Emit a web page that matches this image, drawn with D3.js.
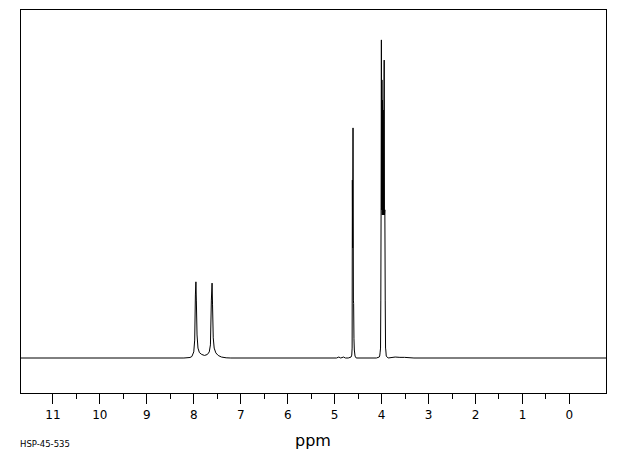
<!DOCTYPE html>
<html>
<head>
<meta charset="utf-8">
<script src="https://cdn.jsdelivr.net/npm/d3@7"></script>
<style>
  html, body { margin: 0; padding: 0; background: #fff; }
  svg { display: block; }
</style>
</head>
<body>
<svg id="chart" width="620" height="455"></svg>
<script>
// ---- data ----
const ppmRange = [11.68, -0.79];          // visible chemical-shift window
const majorTicks = [11, 10, 9, 8, 7, 6, 5, 4, 3, 2, 1, 0];
const minorTicks = [10.5, 9.5, 8.5, 7.5, 6.5, 5.5, 4.5, 3.5, 2.5, 1.5, 0.5];
const xLabel = "ppm";
const sampleId = "HSP-45-535";

// spectrum trace: chemical shift (ppm) and relative intensity (%)
const shiftPpm = [
  11.68, 8.2, 8.07, 8.03, 7.99, 7.97, 7.955, 7.944, 7.935, 7.92, 7.9, 7.87, 7.82, 7.76,
  7.7, 7.66, 7.635, 7.615, 7.6, 7.59, 7.575, 7.555, 7.52, 7.47, 7.4, 7.3, 7.2,
  4.95, 4.9, 4.86, 4.8, 4.76, 4.7, 4.64, 4.625, 4.617, 4.612, 4.606, 4.598, 4.59, 4.585,
  4.578, 4.57, 4.555, 4.53,
  4.1, 4.04, 4.03, 4.022, 4.012, 4.006, 4.0, 3.994, 3.988, 3.982, 3.976, 3.97, 3.962,
  3.955, 3.948, 3.94, 3.934, 3.928, 3.92, 3.912, 3.905, 3.9, 3.89, 3.87, 3.85,
  3.7, 3.6, 3.5, 3.3, -0.79
];
const intensity = [
  0, 0, 0.16, 0.47, 1.9, 5.6, 19.7, 23.8, 18.1, 7.2, 3.1, 1.7, 1.1, 0.8,
  1.1, 1.9, 4.1, 18.1, 23.4, 16.6, 6.3, 3.1, 1.6, 0.8, 0.3, 0.06, 0,
  0, 0.3, 0, 0.3, 0, 0, 0.3, 0.9, 3.1, 55.6, 34.4, 71.9, 18.1, 17.0,
  6.0, 2.5, 0.6, 0,
  0, 0.3, 0.6, 1.6, 3.1, 18.1, 46.9, 99.4, 46.3, 86.9, 44.7, 80.6, 44.7,
  77.5, 44.7, 74.4, 93.1, 44.7, 46.3, 18.1, 3.1, 2.5, 0.6, 0.3, 0,
  0.3, 0.2, 0.2, 0, 0
];

// ---- drawing ----
const svg = d3.select("#chart");
const frame = { left: 20.5, right: 606, top: 9.5, bottom: 393.5 };

const x = d3.scaleLinear().domain(ppmRange).range([frame.left, frame.right]);
const y = d3.scaleLinear().domain([0, 100]).range([358, 38]);

// frame
svg.append("rect")
  .attr("x", frame.left).attr("y", frame.top)
  .attr("width", frame.right - frame.left)
  .attr("height", frame.bottom - frame.top)
  .attr("fill", "none").attr("stroke", "#000").attr("stroke-width", 1)
  .attr("shape-rendering", "crispEdges");

// spectrum
const pts = shiftPpm.map((p, i) => [p, intensity[i]]);
svg.append("path")
  .datum(pts)
  .attr("d", d3.line().x(d => x(d[0])).y(d => y(d[1])))
  .attr("fill", "none")
  .attr("stroke", "#000")
  .attr("stroke-width", 1);

// axis (major ticks with labels)
const axisMajor = d3.axisBottom(x)
  .tickValues(majorTicks)
  .tickSize(10)
  .tickPadding(7)
  .tickFormat(d3.format("d"));
const gMaj = svg.append("g")
  .attr("transform", `translate(0,${frame.bottom})`)
  .call(axisMajor);
gMaj.select(".domain").remove();
gMaj.selectAll("text")
  .attr("font-family", "DejaVu Sans, sans-serif")
  .attr("font-size", 12)
  .attr("fill", "#000");

// minor ticks
const axisMinor = d3.axisBottom(x).tickValues(minorTicks).tickSize(5).tickFormat("");
const gMin = svg.append("g")
  .attr("transform", `translate(0,${frame.bottom})`)
  .call(axisMinor);
gMin.select(".domain").remove();

svg.selectAll(".tick line").attr("stroke", "#000").attr("shape-rendering", "crispEdges");

// labels
svg.append("text")
  .attr("x", 313).attr("y", 446)
  .attr("text-anchor", "middle")
  .attr("font-family", "DejaVu Sans, sans-serif")
  .attr("font-size", 16)
  .attr("fill", "#000")
  .text(xLabel);

svg.append("text")
  .attr("x", 20).attr("y", 447)
  .attr("font-family", "DejaVu Sans, sans-serif")
  .attr("font-size", 8.5)
  .attr("fill", "#000")
  .text(sampleId);
</script>
</body>
</html>
